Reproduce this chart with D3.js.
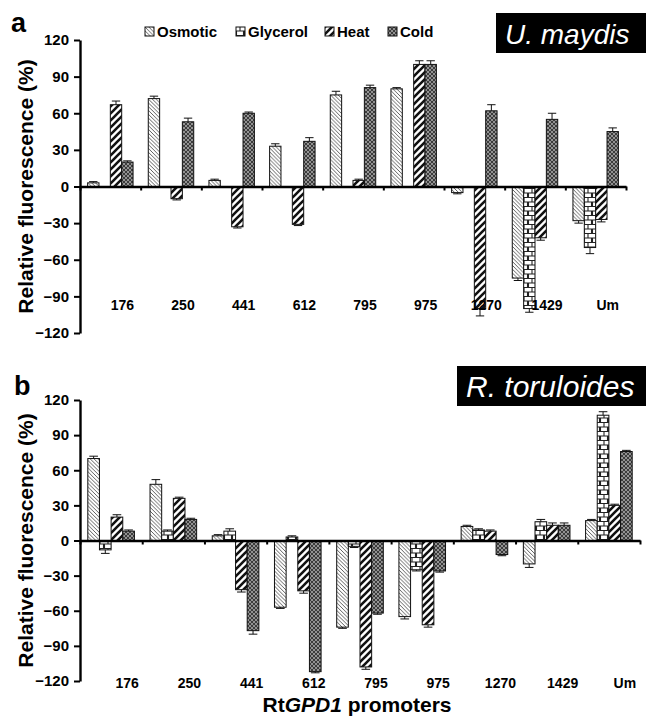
<!DOCTYPE html>
<html>
<head>
<meta charset="utf-8">
<script src="https://cdn.jsdelivr.net/npm/d3@7"></script>
<style>
  body { margin: 0; background: #fff; }
  text { font-family: "Liberation Sans", Arial, sans-serif; }
</style>
</head>
<body>
<div id="chart"></div>
<script>
var promoters = ["176", "250", "441", "612", "795", "975", "1270", "1429", "Um"];
var treatments = ["Osmotic", "Glycerol", "Heat", "Cold"];
var yTicks = [-120, -90, -60, -30, 0, 30, 60, 90, 120];

// panel a - U. maydis
var osmoticA = [3, 72, 5, 33, 75, 80, -5, -75, -28];
var glycerolA = [0, 0, 0, 0, 0, 0, 0, -100, -50];
var heatA = [67, -10, -33, -31, 5, 100, -100, -42, -27];
var coldA = [20, 53, 60, 37, 81, 100, 62, 55, 45];
var osmoticErrA = [1, 2, 1, 2, 3, 1, 1, 2, 2];
var glycerolErrA = [0, 0, 0, 0, 0, 0, 0, 3, 5];
var heatErrA = [3, 1, 1, 1, 1, 3, 6, 2, 2];
var coldErrA = [1, 3, 1, 3, 2, 3, 5, 5, 3];

// panel b - R. toruloides
var osmoticB = [70, 48, 4, -57, -74, -65, 12, -20, 17];
var glycerolB = [-8, 8, 8, 3, -5, -25, 9, 16, 107];
var heatB = [20, 36, -42, -43, -108, -72, 8, 13, 30];
var coldB = [8, 18, -77, -112, -62, -26, -12, 13, 76];
var osmoticErrB = [2, 4, 1, 1, 1, 2, 1, 3, 1];
var glycerolErrB = [3, 1, 2, 1, 1, 1, 1, 2, 3];
var heatErrB = [2, 1, 2, 2, 2, 2, 1, 2, 1];
var coldErrB = [1, 1, 3, 1, 1, 1, 1, 2, 1];

var svg = d3.select("#chart").append("svg")
  .attr("width", 646)
  .attr("height", 716);

// fill patterns
var defs = svg.append("defs");

var pOsm = defs.append("pattern").attr("id", "pat-Osmotic")
  .attr("patternUnits", "userSpaceOnUse").attr("width", 3.8).attr("height", 3.8);
pOsm.append("rect").attr("width", 3.8).attr("height", 3.8).attr("fill", "#fff");
pOsm.append("path").attr("d", "M-1,-1 L4.8,4.8 M-1,2.8 L1,4.8 M2.8,-1 L4.8,1")
  .attr("stroke", "#444").attr("stroke-width", 0.85);

var pGly = defs.append("pattern").attr("id", "pat-Glycerol")
  .attr("patternUnits", "userSpaceOnUse").attr("width", 8).attr("height", 9);
pGly.append("rect").attr("width", 8).attr("height", 9).attr("fill", "#fff");
pGly.append("path").attr("d", "M0,4 H8 M0,8.5 H8 M4,0 V4.5 M0.5,4.5 V9 M7.5,4.5 V9")
  .attr("stroke", "#222").attr("stroke-width", 1.1);

var pHeat = defs.append("pattern").attr("id", "pat-Heat")
  .attr("patternUnits", "userSpaceOnUse").attr("width", 7).attr("height", 7);
pHeat.append("rect").attr("width", 7).attr("height", 7).attr("fill", "#fff");
pHeat.append("path").attr("d", "M-1,8 L8,-1 M-1,1 L1,-1 M6,8 L8,6")
  .attr("stroke", "#111").attr("stroke-width", 2.6);

var pCold = defs.append("pattern").attr("id", "pat-Cold")
  .attr("patternUnits", "userSpaceOnUse").attr("width", 4).attr("height", 4);
pCold.append("rect").attr("width", 4).attr("height", 4).attr("fill", "#3c3c3c");
pCold.append("path").attr("d", "M0,0 L4,4 M4,0 L0,4")
  .attr("stroke", "#a8a8a8").attr("stroke-width", 0.8);

function drawPanel(opt) {
  var g = svg.append("g");

  var x0 = d3.scaleBand().domain(promoters).range([80, opt.right]);
  var x1 = d3.scaleBand().domain(treatments)
    .range([0, x0.bandwidth()]).paddingOuter(0.67);
  var xi = d3.scaleLinear().domain([0, promoters.length]).range([80, opt.right]);
  var y = d3.scaleLinear().domain([-120, 120]).range([opt.bottom, opt.top]);

  var rows = [];
  promoters.forEach(function(p, i) {
    treatments.forEach(function(t, j) {
      rows.push({ p: p, t: t, v: opt.values[j][i], e: opt.errors[j][i] });
    });
  });

  g.selectAll(".bar")
    .data(rows.filter(function(d) { return d.v !== 0; }))
    .enter()
    .append("rect")
    .attr("class", "bar")
    .attr("x", function(d) { return x0(d.p) + x1(d.t); })
    .attr("width", x1.bandwidth())
    .attr("y", function(d) { return y(Math.max(d.v, 0)); })
    .attr("height", function(d) { return Math.abs(y(d.v) - y(0)); })
    .attr("fill", function(d) { return "url(#pat-" + d.t + ")"; })
    .attr("stroke", "#111")
    .attr("stroke-width", 1);

  // error bars
  var errs = g.selectAll(".err")
    .data(rows.filter(function(d) { return d.e > 0 && d.v !== 0; }))
    .enter()
    .append("g")
    .attr("class", "err")
    .attr("stroke", "#111")
    .attr("stroke-width", 1);
  errs.append("line")
    .attr("x1", function(d) { return x0(d.p) + x1(d.t) + x1.bandwidth() / 2; })
    .attr("x2", function(d) { return x0(d.p) + x1(d.t) + x1.bandwidth() / 2; })
    .attr("y1", function(d) { return y(d.v); })
    .attr("y2", function(d) { return y(d.v + (d.v < 0 ? -d.e : d.e)); });
  errs.append("line")
    .attr("x1", function(d) { return x0(d.p) + x1(d.t) + 1.5; })
    .attr("x2", function(d) { return x0(d.p) + x1(d.t) + x1.bandwidth() - 1.5; })
    .attr("y1", function(d) { return y(d.v + (d.v < 0 ? -d.e : d.e)); })
    .attr("y2", function(d) { return y(d.v + (d.v < 0 ? -d.e : d.e)); });

  // category labels
  g.selectAll(".cat")
    .data(promoters)
    .enter()
    .append("text")
    .attr("class", "cat")
    .attr("x", function(d) { return x0(d) + x0.bandwidth() / 2 + opt.labelShift; })
    .attr("y", opt.labelY)
    .attr("text-anchor", "middle")
    .attr("font-weight", "bold")
    .attr("font-size", 14)
    .text(function(d) { return d; });

  // y axis
  var ya = g.append("g")
    .attr("transform", "translate(80,0)")
    .call(d3.axisLeft(y).tickValues(yTicks).tickSizeInner(6).tickSizeOuter(0).tickPadding(5));
  ya.select(".domain").attr("stroke", "#000").attr("stroke-width", 2.4);
  ya.selectAll(".tick line").attr("stroke", "#000").attr("stroke-width", 2);
  ya.selectAll(".tick text")
    .attr("font-family", "Liberation Sans, Arial, sans-serif")
    .attr("font-weight", "bold")
    .attr("font-size", 15)
    .attr("fill", "#000");

  // zero line with category boundary ticks
  var xa = g.append("g")
    .attr("transform", "translate(0," + y(0) + ")")
    .call(d3.axisBottom(xi).tickValues(d3.range(promoters.length + 1))
      .tickSize(4).tickSizeOuter(0).tickFormat(""));
  xa.select(".domain").attr("stroke", "#000").attr("stroke-width", 2.6);
  xa.selectAll(".tick line").attr("stroke", "#000").attr("stroke-width", 2);

  // y title
  g.append("text")
    .attr("transform", "translate(33," + y(0) + ") rotate(-90)")
    .attr("text-anchor", "middle")
    .attr("font-weight", "bold")
    .attr("font-size", 21)
    .text("Relative fluorescence (%)");

  // panel letter
  g.append("text")
    .attr("x", opt.letterX)
    .attr("y", opt.letterY)
    .attr("font-weight", "bold")
    .attr("font-size", 27)
    .text(opt.letter);

  // species box
  g.append("rect")
    .attr("x", opt.boxX)
    .attr("y", opt.boxY)
    .attr("width", 646 - opt.boxX)
    .attr("height", 40)
    .attr("fill", "#000");
  g.append("text")
    .attr("x", opt.boxX + 9)
    .attr("y", opt.boxY + 31)
    .attr("fill", "#fff")
    .attr("font-style", "italic")
    .attr("font-size", opt.titleSize)
    .text(opt.title);
}

drawPanel({
  top: 40, bottom: 333, right: 626,
  values: [osmoticA, glycerolA, heatA, coldA],
  errors: [osmoticErrA, glycerolErrA, heatErrA, coldErrA],
  labelShift: 12, labelY: 310,
  letter: "a", letterX: 11, letterY: 32,
  title: "U. maydis", boxX: 496, boxY: 13, titleSize: 28
});

drawPanel({
  top: 400, bottom: 681, right: 640,
  values: [osmoticB, glycerolB, heatB, coldB],
  errors: [osmoticErrB, glycerolErrB, heatErrB, coldErrB],
  labelShift: 16, labelY: 688,
  letter: "b", letterX: 14, letterY: 395,
  title: "R. toruloides", boxX: 457, boxY: 366, titleSize: 30
});

// legend
var legX = [145, 236, 325, 388];
var leg = svg.append("g").selectAll(".leg")
  .data(treatments)
  .enter()
  .append("g")
  .attr("class", "leg")
  .attr("transform", function(d, i) { return "translate(" + legX[i] + ",27)"; });
leg.append("rect")
  .attr("width", 9)
  .attr("height", 9)
  .attr("fill", function(d) { return "url(#pat-" + d + ")"; })
  .attr("stroke", "#111")
  .attr("stroke-width", 1);
leg.append("text")
  .attr("x", 12)
  .attr("y", 10)
  .attr("font-weight", "bold")
  .attr("font-size", 15)
  .text(function(d) { return d; });

// x title
var xt = svg.append("text")
  .attr("x", 357)
  .attr("y", 712)
  .attr("text-anchor", "middle")
  .attr("font-weight", "bold")
  .attr("font-size", 21);
xt.append("tspan").text("Rt");
xt.append("tspan").attr("font-style", "italic").text("GPD1");
xt.append("tspan").text(" promoters");
</script>
</body>
</html>
